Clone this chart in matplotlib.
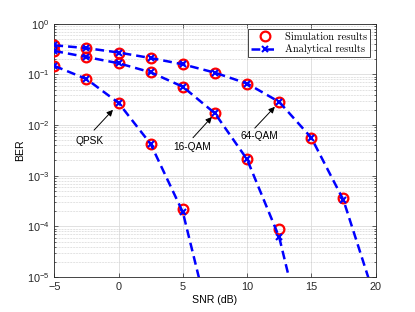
import numpy as np
import matplotlib
matplotlib.use("Agg")
import matplotlib.pyplot as plt

plt.rcParams['font.family'] = 'Liberation Sans'
plt.rcParams['mathtext.fontset'] = 'custom'
plt.rcParams['mathtext.rm'] = 'Liberation Sans'
plt.rcParams['mathtext.it'] = 'Liberation Sans:italic'

# simulated points
snr_qpsk = [-5, -2.5, 0, 2.5, 5]
sim_qpsk = [0.147, 0.081, 0.0273, 0.0042, 2.2e-4]
ana_qpsk_snr = [-5, -2.5, 0, 2.5, 5, 7.5]
ana_qpsk = [0.147, 0.081, 0.0273, 0.0042, 1.9e-4, 5e-7]

snr_16 = [-5, -2.5, 0, 2.5, 5, 7.5, 10, 12.5]
sim_16 = [0.29, 0.22, 0.166, 0.11, 0.057, 0.017, 0.0021, 8.9e-5]
ana_16_snr = [-5, -2.5, 0, 2.5, 5, 7.5, 10, 12.5, 15]
ana_16 = [0.29, 0.22, 0.166, 0.11, 0.057, 0.017, 0.0021, 6.1e-5, 1.5e-7]

snr_64 = [-5, -2.5, 0, 2.5, 5, 7.5, 10, 12.5, 15, 17.5]
sim_64 = [0.375, 0.33, 0.27, 0.21, 0.158, 0.108, 0.066, 0.0286, 0.0056, 3.7e-4]
ana_64_snr = [-5, -2.5, 0, 2.5, 5, 7.5, 10, 12.5, 15, 17.5, 20]
ana_64 = [0.375, 0.33, 0.27, 0.21, 0.158, 0.108, 0.066, 0.0286, 0.0056, 3.3e-4, 3.5e-6]

labels = ['QPSK', '16-QAM', '64-QAM']
label_pos = [(-2.26, 10**-2.31), (5.72, 10**-2.43), (10.92, 10**-2.215)]
arrow_tail = [(-1.91, 10**-2.10), (5.79, 10**-2.25), (10.6, 10**-2.06)]
arrow_head = [(-0.44, 10**-1.70), (7.26, 10**-1.84), (12.16, 10**-1.64)]

fig = plt.figure(figsize=(4.15, 3.12), dpi=100)
ax = fig.add_axes([0.131, 0.112, 0.774, 0.812])

sim_kw = dict(ls='none', marker='o', mfc='none', mec='red', mew=1.6, ms=7)
ana_kw = dict(ls=(0, (3.5, 2)), color='blue', lw=1.8, marker='x', ms=4, mew=1.5)

for i, (s, b) in enumerate([(snr_qpsk, sim_qpsk), (snr_16, sim_16), (snr_64, sim_64)]):
    ax.semilogy(s, b, label='Simulation results' if i == 0 else None, zorder=3, **sim_kw)
for i, (s, b) in enumerate([(ana_qpsk_snr, ana_qpsk), (ana_16_snr, ana_16), (ana_64_snr, ana_64)]):
    ax.semilogy(s, b, label='Analytical results' if i == 0 else None, zorder=4, **ana_kw)

for lab, p, t, h in zip(labels, label_pos, arrow_tail, arrow_head):
    ax.text(p[0], p[1], lab, ha='center', va='center', fontsize=7.3)
    ax.annotate('', xy=h, xytext=t,
                arrowprops=dict(arrowstyle='-|>', color='black', lw=0.7,
                                mutation_scale=9, shrinkA=0, shrinkB=0))

ax.set_xlim(-5, 20)
ax.set_ylim(1e-5, 1)
ax.set_xticks([-5, 0, 5, 10, 15, 20])
ax.set_xlabel('SNR (dB)', fontsize=7.6, labelpad=2)
ax.set_ylabel('BER', fontsize=7.6, labelpad=1)

ax.grid(True, which='major', color='#dcdcdc', lw=0.6)
ax.yaxis.grid(True, which='minor', color='#c4c4c4', lw=0.5, ls=(0, (1, 1.2)))
ax.set_axisbelow(True)
ax.tick_params(which='both', direction='in', top=True, right=True, labelsize=7.8,
               colors='#262626', width=0.5)
ax.tick_params(which='major', length=3)
ax.tick_params(which='minor', length=1.5)
for sp in ax.spines.values():
    sp.set_color('#262626')
    sp.set_linewidth(0.6)

leg = ax.legend(loc='upper right', prop={'family': 'cmr10', 'size': 7.5},
                fancybox=False, edgecolor='#262626', framealpha=1,
                handlelength=2.6, borderaxespad=0.55, labelspacing=0.2,
                borderpad=0.3, handletextpad=0.6)
leg.get_frame().set_linewidth(0.6)

fig.savefig('out.png', dpi=100)
